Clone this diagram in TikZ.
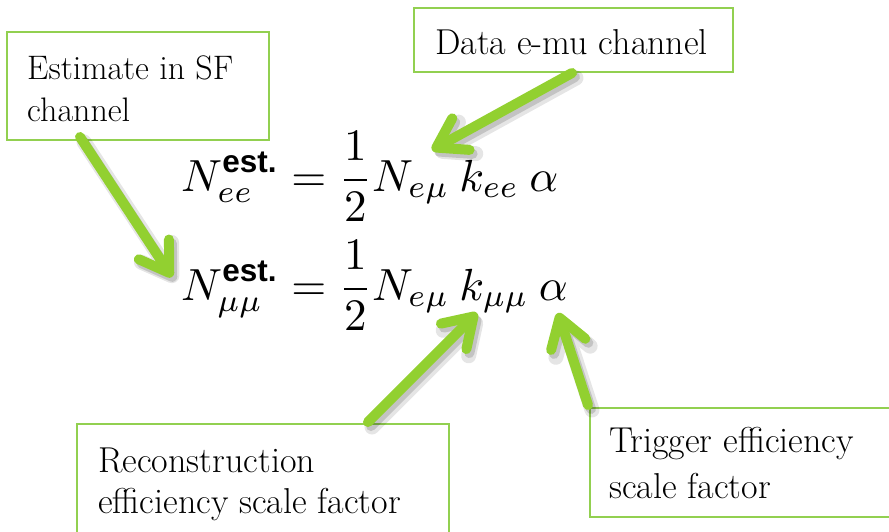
\documentclass[tikz,border=0pt]{standalone}
\usepackage{amsmath}
\usepackage{graphicx}
\usepackage{fontspec}
\usetikzlibrary{arrows.meta}
\newfontfamily\estfont{Liberation Sans}
\definecolor{boxgreen}{RGB}{146,208,80}
\definecolor{arrgreen}{RGB}{146,208,48}
\newcommand{\estsup}{\text{\estfont\bfseries est.}}
\newcommand{\bigeq}[1]{\scalebox{4.5}{$\displaystyle #1$}}
\newcommand{\greenarrow}[2]{%
  \begin{scope}[transparency group, opacity=0.10]
    \draw[arrowline, line width=15pt, draw=black] ([shift={(4,5)}]#1) -- ([shift={(4,5)}]#2);
  \end{scope}
  \begin{scope}[transparency group, opacity=0.15]
    \draw[arrowline, draw=black] ([shift={(3,4)}]#1) -- ([shift={(3,4)}]#2);
  \end{scope}
  \draw[arrowline] (#1) -- (#2);
}
\tikzset{
  lbl/.style={font=\rmfamily\fontsize{36}{42}\selectfont, anchor=base west, inner sep=0pt},
  lblsmall/.style={lbl, font=\rmfamily\fontsize{34}{40}\selectfont},
  gbox/.style={draw=boxgreen, line width=2pt, fill=white, inner sep=0pt, outer sep=0pt, anchor=north west},
  eqn/.style={anchor=base west, inner sep=0pt},
  arrowline/.style={draw=arrgreen, line width=10pt, line cap=round,
    -{Straight Barb[length=28pt,width=36pt,round]}}
}
\begin{document}
\begin{tikzpicture}[x=1pt,y=-1pt]
\useasboundingbox (0,0) rectangle (889,532);
\clip (0,0) rectangle (889,532);
% boxes
\node[gbox, minimum width=262pt, minimum height=108pt] (sfbox) at (7,32) {};
\node[gbox, minimum width=319pt, minimum height=64pt] (databox) at (414,8) {};
\node[gbox, minimum width=372pt, minimum height=130pt] (recobox) at (77,424) {};
\node[gbox, minimum width=320pt, minimum height=109pt] (trigbox) at (590,408) {};
% box texts
\node[lblsmall] (sf1) at (27,80) {Estimate in SF};
\node[lblsmall] (sf2) at (27,122) {channel};
\node[lbl] (data) at (435,55) {Data e-mu channel};
\node[lbl] (reco1) at (98,472) {Reconstruction};
\node[lbl] (reco2) at (98,513) {efficiency scale factor};
\node[lbl] (trig1) at (609,452) {Trigger efficiency};
\node[lbl] (trig2) at (609,498) {scale factor};
% equations
\node[eqn] (eq1) at (181,191) {\bigeq{N^{\estsup}_{ee} = \frac{1}{2}N_{e\mu}\:k_{ee}\:\alpha}};
\node[eqn] (eq2) at (181,300) {\bigeq{N^{\estsup}_{\mu\mu} = \frac{1}{2}N_{e\mu}\:k_{\mu\mu}\:\alpha}};
% arrow end points
\coordinate (a1s) at (80,137);  \coordinate (a1t) at (172,277);
\coordinate (a2s) at (572,73);  \coordinate (a2t) at (432,150);
\coordinate (a3s) at (368,422); \coordinate (a3t) at (477,313);
\coordinate (a4s) at (588,405); \coordinate (a4t) at (558,313);
\greenarrow{a1s}{a1t}
\greenarrow{a2s}{a2t}
\greenarrow{a3s}{a3t}
\greenarrow{a4s}{a4t}
\end{tikzpicture}
\end{document}
